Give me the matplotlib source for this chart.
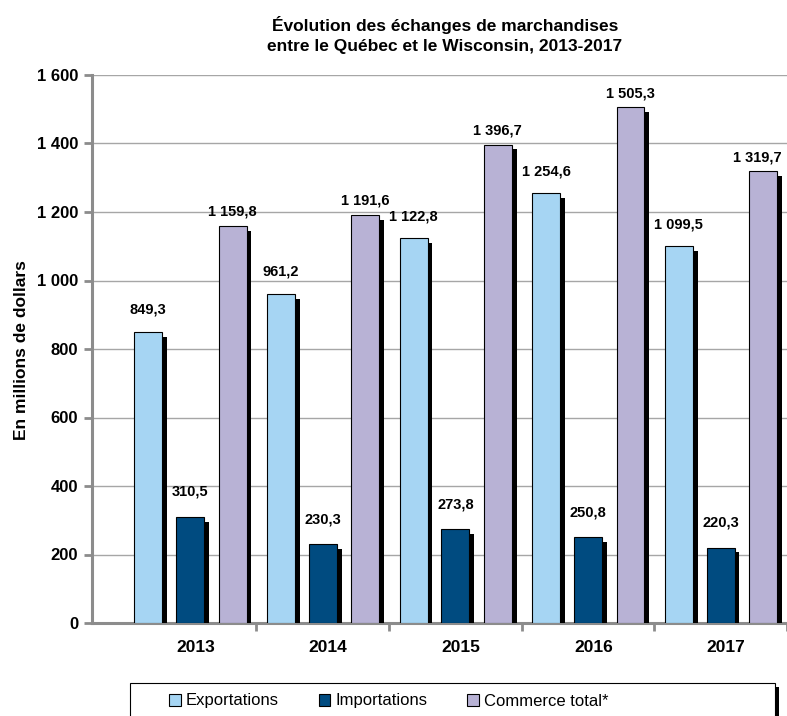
import matplotlib
matplotlib.use("Agg")
import matplotlib.pyplot as plt
import matplotlib.patheffects as pe
from matplotlib.patches import Rectangle
import numpy as np

years = ["2013", "2014", "2015", "2016", "2017"]
exportations = [849.3, 961.2, 1122.8, 1254.6, 1099.5]
importations = [310.5, 230.3, 273.8, 250.8, 220.3]
commerce_total = [1159.8, 1191.6, 1396.7, 1505.3, 1319.7]
y_ticks = [0, 200, 400, 600, 800, 1000, 1200, 1400, 1600]

FONT = ["Liberation Sans Narrow", "Liberation Sans", "DejaVu Sans"]
plt.rcParams["font.family"] = FONT


def fr(v, dec=1):
    s = f"{v:,.{dec}f}"
    return s.replace(",", " ").replace(".", ",")


fig = plt.figure(figsize=(7.87, 7.16), dpi=100)
ax = fig.add_axes([92 / 787, 1 - 623 / 716, 1 - 92 / 787, (623 - 75) / 716])

x = np.arange(len(years))
width = 0.21
shadow = [pe.SimplePatchShadow(offset=(3.5, -3.5), shadow_rgbFace="black", alpha=1), pe.Normal()]

series = [
    (exportations, -0.315, "#A6D5F3", "Exportations", 11),
    (importations, 0.0, "#004B80", "Importations", 13),
    (commerce_total, 0.32, "#B8B2D5", "Commerce total*", 5),
]
handles = []
for vals, off, color, label, pad in series:
    bars = ax.bar(x + off, vals, width, color=color, edgecolor="black",
                  linewidth=0.8, label=label, zorder=3)
    for b in bars:
        b.set_path_effects(shadow)
    handles.append(bars)
    for i, (xi, v) in enumerate(zip(x + off, vals)):
        dx = -4 if (off > 0 and i == len(vals) - 1) else 0
        ax.annotate(fr(v), (xi, v), xytext=(dx, pad), textcoords="offset points",
                    ha="center", va="bottom", fontsize=10.5, fontweight="bold")

ax.set_ylim(0, 1600)
ax.set_xlim(-0.74, -0.74 + 695 / 133)
ax.set_yticks(y_ticks)
ax.set_yticklabels([fr(t, 0) for t in y_ticks], fontsize=12, fontweight="bold")
ax.set_xticks(x + 0.04)
ax.set_xticklabels(years, fontsize=12.5, fontweight="bold")
ax.set_xticks(np.arange(len(years)) + 0.5, minor=True)
ax.tick_params(axis="x", which="major", length=0, pad=12)
ax.tick_params(axis="x", which="minor", length=6, width=2, color="#8C8C8C", direction="out")
ax.tick_params(axis="y", length=6, width=2, color="#8C8C8C", pad=4)
ax.grid(axis="y", color="#A6A6A6", linewidth=1, zorder=0)
ax.set_axisbelow(True)
for s in ["top", "right"]:
    ax.spines[s].set_visible(False)
for s in ["left", "bottom"]:
    ax.spines[s].set_color("#8C8C8C")
    ax.spines[s].set_linewidth(2.2)

fig.text(22 / 787, 1 - 350 / 716, "En millions de dollars", rotation=90,
         ha="center", va="center", fontsize=12.5, fontweight="bold")
fig.text(445 / 787, 1 - 35 / 716,
         "Évolution des échanges de marchandises\nentre le Québec et le Wisconsin, 2013-2017",
         ha="center", va="center", fontsize=12.5, fontweight="bold", linespacing=1.5)

# legend box drawn separately so the entries can sit left of centre like the original
box = Rectangle((130 / 787, -0.01), 645 / 787, 1 - 683 / 716 + 0.01,
                transform=fig.transFigure, facecolor="white", edgecolor="black",
                linewidth=0.8, zorder=1)
box.set_path_effects([pe.SimplePatchShadow(offset=(3, -3), shadow_rgbFace="black", alpha=1),
                      pe.Normal()])
fig.patches.append(box)

leg = fig.legend(handles, [s[3] for s in series], loc="center left",
                 bbox_to_anchor=(169 / 787, 1 - 701 / 716), ncol=3, fontsize=12,
                 frameon=False, borderaxespad=0, borderpad=0,
                 handlelength=0.7, handleheight=0.7, handletextpad=0.3,
                 columnspacing=2.4)
leg.set_zorder(5)
for h in leg.legend_handles:
    h.set_path_effects([])
    h.set_edgecolor("black")
    h.set_linewidth(0.8)

fig.savefig("out.png", dpi=100)
